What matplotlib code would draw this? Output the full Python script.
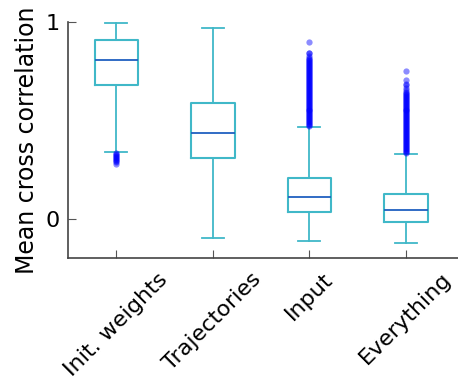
import matplotlib
matplotlib.use('Agg')
import matplotlib.pyplot as plt

labels = ['Init. weights', 'Trajectories', 'Input', 'Everything']

# box summary for each condition
whislo = [0.34, -0.10, -0.113, -0.122]
q1 = [0.678, 0.306, 0.032, -0.015]
med = [0.805, 0.438, 0.112, 0.046]
q3 = [0.909, 0.590, 0.207, 0.123]
whishi = [0.997, 0.970, 0.467, 0.331]

# outlying values
init_fliers = [0.335, 0.33, 0.325, 0.32, 0.315, 0.31, 0.305, 0.30, 0.295, 0.29, 0.28]
traj_fliers = []
input_fliers = [0.47, 0.475, 0.48, 0.485, 0.49, 0.495, 0.50, 0.505, 0.51, 0.515,
                0.52, 0.525, 0.53, 0.535, 0.54, 0.545, 0.55, 0.555, 0.56, 0.565,
                0.57, 0.575, 0.58, 0.585, 0.59, 0.595, 0.60, 0.605, 0.61, 0.615,
                0.62, 0.625, 0.63, 0.635, 0.64, 0.645, 0.65, 0.655, 0.66, 0.665,
                0.67, 0.675, 0.68, 0.685, 0.69, 0.695, 0.70, 0.705, 0.71, 0.715,
                0.72, 0.725, 0.73, 0.735, 0.74, 0.745, 0.75, 0.755, 0.76, 0.765,
                0.77, 0.775, 0.78, 0.785, 0.79, 0.795, 0.80, 0.805, 0.81,
                0.815, 0.825, 0.84, 0.84, 0.90]
every_fliers = [0.335, 0.34, 0.345, 0.35, 0.355, 0.36, 0.365, 0.37, 0.375, 0.38,
                0.385, 0.39, 0.395, 0.40, 0.405, 0.41, 0.415, 0.42, 0.425, 0.43,
                0.435, 0.44, 0.445, 0.45, 0.455, 0.46, 0.465, 0.47, 0.475, 0.48,
                0.485, 0.49, 0.495, 0.50, 0.505, 0.51, 0.515, 0.52, 0.525, 0.53,
                0.535, 0.54, 0.545, 0.55, 0.555, 0.56, 0.565, 0.57, 0.575, 0.58,
                0.585, 0.59, 0.595, 0.60, 0.605, 0.61, 0.615, 0.62, 0.625, 0.63,
                0.635, 0.64, 0.645,
                0.655, 0.665, 0.68, 0.685, 0.705, 0.75]
fliers = [init_fliers, traj_fliers, input_fliers, every_fliers]

stats = []
for i in range(len(labels)):
    stats.append({'label': labels[i], 'whislo': whislo[i], 'q1': q1[i], 'med': med[i],
                  'q3': q3[i], 'whishi': whishi[i], 'fliers': fliers[i]})

box_c = '#40b8c8'
fig = plt.figure(figsize=(4.58, 3.81), dpi=100)
# axes runs to the right edge of the figure
ax = fig.add_axes([68 / 458, 1 - 258 / 381, 390 / 458, 236 / 381])

ax.bxp(stats, widths=0.45,
       boxprops=dict(color=box_c, linewidth=1.5),
       whiskerprops=dict(color=box_c, linewidth=1.3),
       capprops=dict(color=box_c, linewidth=1.3),
       medianprops=dict(color='#2060c0', linewidth=1.3),
       flierprops=dict(marker='o', markerfacecolor='blue', markeredgecolor='none',
                       markersize=4.5, alpha=0.45))

ax.set_xlim(0.5, 4.54)
ax.set_ylim(-0.2, 1.0)
ax.set_yticks([0, 1])
ax.set_yticklabels(['0', '1'])
ax.set_xticks([1, 2, 3, 4])
ax.set_xticklabels(labels, rotation=45)
ax.set_ylabel('Mean cross correlation', fontsize=17)
ax.yaxis.set_label_coords(-0.075, 0.5)

ax.spines['top'].set_visible(False)
ax.spines['right'].set_visible(False)
for s in ['left', 'bottom']:
    ax.spines[s].set_color('#444444')
    ax.spines[s].set_linewidth(1.2)
ax.tick_params(axis='both', direction='in', length=6, color='#555555', labelsize=16)
ax.tick_params(axis='y', pad=6)
ax.tick_params(axis='x', pad=8)

fig.savefig('out.png', dpi=100)
